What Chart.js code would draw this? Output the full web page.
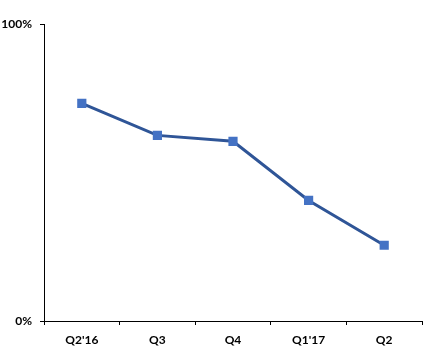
<!DOCTYPE html>
<html>
<head>
<meta charset="utf-8">
<script src="https://cdn.jsdelivr.net/npm/chart.js@4"></script>
<style>
  html, body { margin: 0; padding: 0; background: #fff; }
  #wrap { width: 441px; height: 359px; }
</style>
</head>
<body>
<div id="wrap"><canvas id="lineChart"></canvas></div>
<script>
const categories = ["Q2'16", "Q3", "Q4", "Q1'17", "Q2"];
const shareValues = [73.3, 62.5, 60.5, 40.6, 25.5];
const yTickValues = [0, 100];

const tickFont = { family: 'Lato, "Open Sans", sans-serif', size: 12, weight: 'bold' };

new Chart(document.getElementById('lineChart'), {
    type: 'line',
    data: {
        labels: categories,
        datasets: [{
            label: 'Share',
            data: shareValues,
            borderColor: '#2F5597',
            borderWidth: 3,
            pointStyle: 'rect',
            pointRadius: 6.5,
            pointBackgroundColor: '#4472C4',
            pointBorderWidth: 0,
            tension: 0,
            fill: false
        }]
    },
    options: {
        responsive: true,
        maintainAspectRatio: false,
        animation: false,
        layout: { padding: { top: 24, right: 19, left: 0, bottom: 0 } },
        plugins: { legend: { display: false }, tooltip: { enabled: false } },
        scales: {
            x: {
                offset: true,
                grid: { offset: true, drawOnChartArea: false, tickLength: 4, color: '#000' },
                border: { color: '#000', width: 1 },
                ticks: { color: '#000', font: tickFont, padding: 8, maxRotation: 0 },
                afterFit: s => { s.height = 38; }
            },
            y: {
                min: 0,
                max: 100,
                afterBuildTicks: s => { s.ticks = yTickValues.map(v => ({ value: v })); },
                grid: { drawOnChartArea: false, tickLength: 4, color: '#000' },
                border: { color: '#000', width: 1 },
                ticks: { color: '#000', font: tickFont, padding: 8, callback: v => v + '%' },
                afterFit: s => { s.width = 44; }
            }
        }
    }
});
</script>
</body>
</html>
